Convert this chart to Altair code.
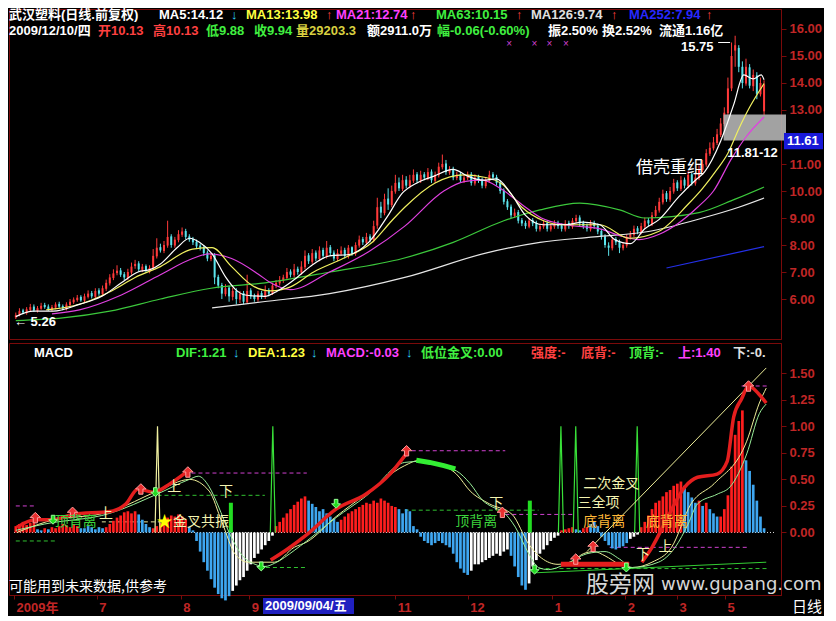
import altair as alt
import pandas as pd

# ===================== price panel: one entry per trading day =====================
OPEN = [
    5.32, 5.42, 5.58, 5.48, 5.60, 5.72, 5.56, 5.64, 5.78, 5.72, 5.60,
    5.68, 5.82, 5.74, 5.62, 5.78, 5.88, 5.96, 6.08, 5.94, 6.08,
    6.22, 6.08, 6.32, 6.18, 6.38, 6.58, 6.78, 6.96, 7.06, 6.92,
    6.78, 6.98, 7.22, 7.32, 7.08, 7.22, 7.02, 7.16, 7.58, 7.92,
    7.78, 7.98, 8.32, 7.98, 8.18, 8.38, 8.52, 8.32, 8.22, 8.12,
    7.98, 7.92, 7.72, 7.48, 7.62, 6.82, 6.52, 6.18, 6.42, 6.08,
    6.30, 5.98, 6.22, 5.88, 6.32, 6.12, 5.98, 6.22, 6.08, 6.32,
    6.22, 6.48, 6.58, 6.68, 6.78, 7.02, 6.88, 7.12, 6.98, 7.18,
    7.62, 7.38, 7.72, 7.48, 7.82, 7.58, 7.92, 7.72, 7.48, 7.68,
    7.82, 7.58, 7.92, 7.68, 7.98, 8.22, 8.08, 8.32, 8.18, 8.72,
    9.42, 9.18, 9.72, 9.48, 9.98, 10.32, 10.08, 10.42, 10.18, 10.38,
    10.62, 10.38, 10.62, 10.48, 10.72, 10.38, 10.58, 10.88, 11.02, 10.68,
    10.82, 10.48, 10.62, 10.38, 10.48, 10.62, 10.28, 10.52, 10.42, 10.18,
    10.38, 10.62, 10.52, 10.32, 10.02, 9.62, 9.42, 9.08, 9.22, 8.92,
    8.82, 8.68, 8.92, 8.82, 8.58, 8.68, 8.82, 8.58, 8.68, 8.82,
    8.72, 8.58, 8.82, 8.68, 8.88, 9.02, 8.82, 8.72, 8.58, 8.82,
    8.72, 8.52, 8.32, 7.98, 7.88, 8.22, 8.12, 7.88, 7.98, 8.28,
    8.38, 8.62, 8.48, 8.68, 8.92, 8.78, 9.08, 9.28, 9.58, 9.92,
    9.68, 9.98, 10.32, 10.08, 10.42, 10.18, 10.62, 10.28, 10.48, 10.78,
    10.98, 11.38, 11.58, 11.78, 12.08, 12.48, 12.88, 13.80, 15.20, 15.30,
    14.60, 13.98, 14.58, 13.88, 14.28, 13.58, 12.95,
]
CLOSE = [
    5.40, 5.55, 5.50, 5.62, 5.70, 5.58, 5.66, 5.75, 5.70, 5.62, 5.70,
    5.80, 5.72, 5.65, 5.80, 5.90, 5.98, 6.05, 5.95, 6.10, 6.20,
    6.10, 6.30, 6.20, 6.40, 6.60, 6.80, 6.95, 7.05, 6.90, 6.80,
    7.00, 7.20, 7.30, 7.10, 7.20, 7.05, 7.15, 7.60, 7.90, 7.80,
    8.00, 8.30, 8.00, 8.20, 8.40, 8.50, 8.30, 8.20, 8.10, 7.95,
    7.90, 7.70, 7.50, 7.60, 6.80, 6.50, 6.20, 6.40, 6.10, 6.30,
    6.00, 6.20, 5.90, 6.30, 6.10, 6.00, 6.20, 6.10, 6.30, 6.20,
    6.50, 6.60, 6.70, 6.80, 7.00, 6.90, 7.10, 7.00, 7.20, 7.60,
    7.40, 7.70, 7.50, 7.80, 7.60, 7.90, 7.70, 7.50, 7.70, 7.80,
    7.60, 7.90, 7.70, 8.00, 8.20, 8.10, 8.30, 8.20, 8.70, 9.40,
    9.20, 9.70, 9.50, 10.00, 10.30, 10.10, 10.40, 10.20, 10.40, 10.60,
    10.40, 10.60, 10.50, 10.70, 10.40, 10.60, 10.90, 11.00, 10.70, 10.80,
    10.50, 10.60, 10.40, 10.50, 10.60, 10.30, 10.50, 10.40, 10.20, 10.40,
    10.60, 10.50, 10.30, 10.00, 9.60, 9.40, 9.10, 9.20, 8.90, 8.80,
    8.70, 8.90, 8.80, 8.60, 8.70, 8.80, 8.60, 8.70, 8.80, 8.70,
    8.60, 8.80, 8.70, 8.90, 9.00, 8.80, 8.70, 8.60, 8.80, 8.70,
    8.50, 8.30, 8.00, 7.90, 8.20, 8.10, 7.90, 8.00, 8.30, 8.40,
    8.60, 8.50, 8.70, 8.90, 8.80, 9.10, 9.30, 9.60, 9.90, 9.70,
    10.00, 10.30, 10.10, 10.40, 10.20, 10.60, 10.30, 10.50, 10.80, 11.00,
    11.40, 11.60, 11.80, 12.10, 12.50, 12.90, 13.80, 15.00, 15.40, 14.60,
    14.00, 14.60, 13.90, 14.30, 13.60, 14.00, 13.95,
]
HIGH = [
    5.50, 5.66, 5.64, 5.70, 5.82, 5.80, 5.74, 5.86, 5.86, 5.80, 5.78,
    5.88, 5.90, 5.80, 5.88, 6.00, 6.06, 6.15, 6.14, 6.20, 6.32,
    6.30, 6.40, 6.40, 6.50, 6.72, 6.92, 7.10, 7.25, 7.15, 7.00,
    7.12, 7.35, 7.45, 7.40, 7.30, 7.28, 7.25, 7.85, 8.25, 8.05,
    8.15, 8.90, 8.40, 8.30, 8.55, 8.65, 8.60, 8.40, 8.30, 8.20,
    8.05, 8.00, 7.80, 7.70, 7.70, 6.90, 6.60, 6.55, 6.50, 6.42,
    6.40, 6.30, 6.30, 6.90, 6.40, 6.20, 6.30, 6.30, 6.50, 6.40,
    6.60, 6.70, 6.85, 6.90, 7.15, 7.10, 7.30, 7.20, 7.40, 7.80,
    7.70, 7.85, 7.80, 7.95, 7.90, 8.15, 8.00, 7.80, 7.85, 7.95,
    7.90, 8.00, 7.95, 8.10, 8.35, 8.30, 8.45, 8.40, 8.90, 9.75,
    9.60, 9.90, 10.10, 10.20, 10.60, 10.50, 10.60, 10.55, 10.60, 10.80,
    10.70, 10.75, 10.70, 10.85, 10.80, 10.72, 11.05, 11.35, 11.15, 10.92,
    10.90, 10.72, 10.70, 10.62, 10.72, 10.70, 10.62, 10.60, 10.50, 10.52,
    10.75, 10.70, 10.60, 10.40, 10.10, 9.70, 9.50, 9.35, 9.30, 9.00,
    8.90, 9.00, 9.00, 8.90, 8.80, 8.92, 8.90, 8.80, 8.92, 8.90,
    8.80, 8.92, 8.90, 9.00, 9.12, 9.10, 8.90, 8.80, 8.92, 8.90,
    8.80, 8.60, 8.40, 8.10, 8.30, 8.30, 8.20, 8.10, 8.40, 8.52,
    8.72, 8.70, 8.82, 9.02, 9.00, 9.22, 9.45, 9.75, 10.05, 10.00,
    10.15, 10.45, 10.40, 10.55, 10.50, 10.75, 10.70, 10.65, 10.95, 11.15,
    11.55, 11.80, 12.00, 12.30, 12.70, 13.10, 14.20, 15.50, 15.75, 15.40,
    14.80, 14.90, 14.70, 14.50, 14.40, 14.20, 14.10,
]
LOW = [
    5.26, 5.36, 5.44, 5.42, 5.54, 5.52, 5.50, 5.60, 5.64, 5.56, 5.54,
    5.62, 5.66, 5.58, 5.58, 5.72, 5.82, 5.90, 5.90, 5.88, 6.02,
    6.02, 6.00, 6.12, 6.10, 6.30, 6.50, 6.70, 6.88, 6.82, 6.70,
    6.70, 6.90, 7.12, 7.02, 7.00, 6.98, 6.95, 7.10, 7.50, 7.72,
    7.70, 7.90, 7.90, 7.90, 8.10, 8.30, 8.22, 8.12, 8.00, 7.85,
    7.80, 7.60, 7.40, 7.40, 6.55, 6.40, 6.00, 6.10, 5.90, 5.95,
    5.80, 5.85, 5.80, 5.85, 6.00, 5.90, 5.90, 6.00, 6.00, 6.10,
    6.15, 6.40, 6.50, 6.60, 6.70, 6.80, 6.80, 6.90, 6.90, 7.10,
    7.30, 7.30, 7.40, 7.40, 7.50, 7.50, 7.60, 7.40, 7.40, 7.60,
    7.50, 7.50, 7.60, 7.60, 7.90, 8.00, 8.00, 8.10, 8.10, 8.60,
    9.00, 9.10, 9.30, 9.40, 9.90, 10.00, 10.00, 10.10, 10.10, 10.30,
    10.30, 10.30, 10.40, 10.40, 10.30, 10.30, 10.50, 10.80, 10.60, 10.60,
    10.40, 10.40, 10.30, 10.30, 10.40, 10.20, 10.20, 10.30, 10.10, 10.10,
    10.30, 10.40, 10.20, 9.90, 9.50, 9.30, 9.00, 9.00, 8.80, 8.70,
    8.60, 8.62, 8.70, 8.50, 8.50, 8.60, 8.50, 8.50, 8.60, 8.60,
    8.50, 8.50, 8.60, 8.60, 8.80, 8.70, 8.60, 8.50, 8.50, 8.60,
    8.40, 8.20, 7.90, 7.60, 7.80, 8.00, 7.70, 7.80, 7.90, 8.20,
    8.30, 8.40, 8.40, 8.60, 8.70, 8.70, 9.00, 9.20, 9.50, 9.60,
    9.60, 9.90, 10.00, 10.00, 10.10, 10.10, 10.20, 10.20, 10.40, 10.70,
    10.90, 11.30, 11.50, 11.70, 12.00, 12.40, 12.80, 13.70, 14.60, 14.40,
    13.80, 13.90, 13.80, 13.70, 13.40, 13.50, 12.80,
]

# moving averages, read at selected bars: (bar index, value)
MA5 = [(0, 5.35), (4.9, 5.55), (10.3, 5.55), (17.6, 5.8), (23.8, 6.1), (29.2, 6.6), (33.8, 7.0),
       (37.3, 7.1), (40, 7.3), (44.6, 7.9), (48.1, 8.25), (50.8, 8.1), (54.3, 7.67), (58.1, 6.8),
       (60.8, 6.35), (63.5, 6.15), (68.9, 6.1), (72.4, 6.3), (77.8, 6.8), (81.4, 7.2), (86.8, 7.6),
       (92.2, 7.65), (97.6, 8.1), (103, 9.1), (106.8, 9.9), (111, 10.3), (115.7, 10.55), (121, 10.8),
       (125, 10.55), (129.2, 10.4), (133, 10.45), (137, 9.9), (141, 9.1), (146, 8.75), (152, 8.75),
       (157, 8.85), (161.6, 8.75), (165.7, 8.2), (170, 8.05), (174, 8.6), (178, 8.95), (183.5, 9.8),
       (188, 10.4), (190.5, 10.7), (195, 11.85), (198.6, 13.2), (201.4, 14.3), (204, 14.15),
       (206.2, 14.3), (207, 14.12)]
MA13 = [(8.4, 5.6), (16, 5.75), (26.5, 6.3), (33, 6.8), (40, 7.2), (48.9, 7.85), (54.3, 7.9),
        (59.7, 7.2), (65.4, 6.5), (70.5, 6.3), (76, 6.45), (82.4, 7.0), (90.5, 7.5), (98.6, 8.1),
        (104, 8.9), (107.6, 9.4), (116, 10.3), (124, 10.6), (130, 10.5), (134.6, 10.25), (140, 9.4),
        (146, 8.9), (151, 8.75), (161.6, 8.75), (169.7, 8.25), (177.8, 8.5), (185.9, 9.5),
        (190, 10.1), (194, 10.8), (197, 11.4), (200, 12.3), (203, 13.1), (207, 13.98)]
MA21 = [(10, 5.45), (17.6, 5.6), (29.2, 6.15), (40, 6.9), (48.9, 7.5), (53.5, 7.67), (59.7, 7.5),
        (67, 6.93), (70.5, 6.6), (76, 6.35), (86.8, 7.0), (97.6, 7.75), (107.6, 8.7), (118.4, 10.0),
        (124, 10.35), (129, 10.4), (134, 10.1), (140, 9.5), (145.4, 9.0), (152, 8.75), (161.6, 8.6),
        (167, 8.35), (172.4, 8.2), (178, 8.4), (183.2, 8.8), (188.6, 9.4), (193, 10.0), (198, 11.2),
        (202, 12.0), (207, 12.74)]
MA63 = [(0, 5.2), (13, 5.3), (26, 5.55), (40, 6.0), (54, 6.4), (69, 6.6), (87, 7.0), (107, 7.5),
        (121, 8.1), (135, 8.9), (145, 9.3), (156, 9.55), (167, 9.3), (174, 9.0), (189, 9.2),
        (199, 9.7), (207, 10.15)]
MA126 = [(54.3, 5.67), (68.4, 5.9), (86.8, 6.2), (107.6, 6.8), (130, 7.7), (145, 8.1), (160, 8.3),
         (175, 8.5), (190, 9.0), (200, 9.4), (207, 9.74)]
MA252 = [(180, 7.15), (207, 7.94)]

# ===================== MACD panel =====================
HIST = [
    0.06, 0.08, 0.10, 0.07, 0.09, 0.13,
    0.03, 0.02, 0.04, 0.03, 0.05,
    0.04, 0.06, 0.08, 0.07, 0.05, 0.08, 0.06,
    0.04, 0.04, 0.06, 0.05, 0.03, 0.05, 0.04,
    0.05, 0.08, 0.11, 0.14, 0.16, 0.19, 0.20, 0.18, 0.20,
    0.17, 0.12, 0.08, 0.05,
    0.04, 0.06, 0.09, 0.12, 0.14, 0.16, 0.15, 0.17, 0.15, 0.12,
    0.05, 0.02,
    -0.08, -0.18, -0.28, -0.36, -0.44, -0.52, -0.58, -0.62, -0.64, -0.60,
    -0.55, -0.50, -0.45, -0.42, -0.36, -0.30, -0.24, -0.20, -0.16, -0.12, -0.08,
    -0.03,
    0.06, 0.10, 0.14, 0.18, 0.22, 0.26, 0.29, 0.32, 0.34,
    0.30, 0.27, 0.24, 0.20, 0.22, 0.18, 0.15, 0.13,
    0.10,
    0.12, 0.15, 0.18, 0.20, 0.22, 0.24, 0.26, 0.28, 0.27, 0.30, 0.28, 0.32, 0.30, 0.28, 0.25, 0.24,
    0.22, 0.18, 0.22, 0.20,
    0.06, 0.03, -0.04,
    -0.08, -0.10, -0.12, -0.10, -0.08, -0.10, -0.12,
    -0.14, -0.20, -0.28, -0.34, -0.38, -0.40, -0.36, -0.30,
    -0.30, -0.28, -0.26, -0.24, -0.22, -0.20, -0.22, -0.18, -0.16,
    -0.22, -0.32, -0.42, -0.50, -0.54, -0.48,
    -0.32, -0.26, -0.20, -0.16, -0.12, -0.08, -0.05, -0.03,
    0.02, 0.03, 0.04, 0.05, 0.03, 0.02, 0.04, 0.05, 0.08, 0.10, 0.06,
    -0.04, -0.08, -0.12, -0.15, -0.16, -0.14, -0.13, -0.10,
    -0.06, -0.04, -0.02,
    0.05, 0.10, 0.16, 0.22, 0.28, 0.30, 0.34, 0.38, 0.40, 0.44, 0.46, 0.48,
    0.44, 0.38, 0.33, 0.28, 0.30, 0.25, 0.28, 0.22, 0.18, 0.15,
    0.15, 0.22, 0.35, 0.62, 0.92, 1.05, 1.15,
    0.68, 0.58, 0.45, 0.30, 0.15, 0.04,
]
HIST_KIND = ("rrrrrr" "bbrbr" "rrrrrrr" "bbbbbbb" "rrrrrrrrr" "bbbb" "rrrrrrrrrr" "bb"
             "bbbbbbbbbb" "wwwwwwwwwww" "w" "rrrrrrrrr" "bbbbbbbb" "b" "rrrrrrrrrrrrrrrr"
             "bbbb" "bbb" "bbbbbbb" "bbbbbbww" "wwwwwwwww" "bbbbbw" "wwwwwwww" "rrrrbbrrbbb"
             "bbbbbbbb" "www" "rrrrrrrrrrrr" "bbbbrbrbbb" "rrrrrrr" "bbbbbb")

DEA_LINE = [(0.3, 0.0), (8.4, 0.1), (26.5, 0.2), (39.2, 0.39), (48.1, 0.5), (53.5, 0.39), (57, 0.1),
            (60.8, -0.21), (64.3, -0.28), (71.6, -0.28), (77, -0.14), (80.5, -0.09), (88.6, 0.15),
            (96.8, 0.36), (107.6, 0.63), (111.6, 0.68), (116.5, 0.65), (121.9, 0.55), (125.7, 0.39),
            (131, 0.27), (137.3, 0.17), (141.9, -0.11), (145.4, -0.24), (150, -0.3), (154, -0.27),
            (157, -0.2), (160, -0.18), (163, -0.22), (167, -0.3), (170.5, -0.33), (176, -0.28),
            (181.4, -0.14), (186.8, 0.27), (193.2, 0.46), (202.2, 0.86), (205.7, 1.22), (207.6, 1.36)]
DIF_LINE = [(0, 0.02), (8, 0.08), (26, 0.18), (39, 0.36), (48, 0.5), (50.5, 0.53), (53.5, 0.43),
            (56, 0.25), (59, 0.0), (62.5, -0.21), (66.2, -0.3), (69, -0.32), (71.6, -0.29),
            (77, -0.17), (80.5, -0.08), (88.6, 0.14), (96.8, 0.34), (107.6, 0.66), (112, 0.67),
            (121.9, 0.58), (125.7, 0.46), (129.2, 0.3), (131.9, 0.24), (134.6, 0.2), (138.2, 0.05),
            (141.9, -0.2), (144.6, -0.33), (147.3, -0.35), (152, -0.3), (158, -0.2), (163, -0.18),
            (167, -0.25), (170.5, -0.33), (177.8, -0.28), (182.4, -0.14), (186, 0.08), (188.6, 0.27),
            (194, 0.36), (197.6, 0.43), (202.2, 0.74), (205.7, 1.12), (207.6, 1.21)]
STRENGTH = {
    "a": [(0.3, 0.05), (5.4, 0.12), (10.3, 0.12), (15.7, 0.17), (26.5, 0.2), (30.5, 0.27),
          (33.8, 0.41), (38.1, 0.38), (42.7, 0.46), (47.3, 0.57)],
    "b": [(70.5, -0.26), (75, -0.16), (80.5, -0.02), (88.6, 0.22), (96.8, 0.36), (103.5, 0.55),
          (108, 0.74)],
    "d": [(173.2, -0.28), (176, -0.14), (179.7, 0.1), (185.1, 0.43), (188.6, 0.52), (194, 0.55),
          (196.8, 0.67), (198.6, 1.09), (200.8, 1.26), (202.7, 1.38), (205.4, 1.31), (207.6, 1.22)],
}
BAND = [(150.8, -0.3), (169.7, -0.3)]
GREEN_THICK = [(110.8, 0.68), (114.5, 0.66), (118.4, 0.63), (121.6, 0.6)]
TREND_UP = [(158, -0.18), (207.6, 1.55)]
TREND_LOW = [(143.5, -0.38), (207.6, -0.28)]
SPIKE_AT = [39.2, 71.1, 150.8, 154.9, 171.9]
SPIKE_TOP = [1.0, 1.0, 1.0, 1.0, 1.0]
SPIKE_KIND = ["y", "g", "g", "g", "g"]
GBAR_AT = [59.5, 142.2]
GBAR_TOP = [0.28, 0.30]
UP_AT = [5.4, 15.7, 34.6, 47.6, 108.1, 134.6, 154.9, 159.7, 202.7]
UP_V = [0.14, 0.19, 0.41, 0.57, 0.77, 0.19, -0.25, -0.13, 1.38]
DN_AT = [10.3, 38.6, 67.9, 88.6, 143.5, 168.9]
DN_V = [0.12, 0.38, -0.32, 0.27, -0.35, -0.33]
# dashed levels: (from bar, to bar, value, kind)
LEVELS = [(0, 5.4, 0.25, "m"), (48.6, 80.5, 0.56, "m"), (107.6, 135.4, 0.77, "m"),
          (135.4, 154.3, 0.17, "m"), (164.3, 203, -0.14, "m"), (200.8, 208.5, 1.38, "m"),
          (0, 11.1, -0.08, "g"), (39.2, 68.9, 0.35, "g"), (69.2, 80.5, -0.33, "g"),
          (107.6, 144.6, 0.21, "g"), (144.6, 208.4, -0.34, "g"), (23.8, 40.8, 0.1, "y")]
# signal words: (bar, value, text, kind)
SIGNALS = [(10.8, 0.095, "顶背离", "g"), (23, 0.17, "上", "y"), (41.9, 0.43, "上", "y"),
           (43.5, 0.095, "金叉共振", "y"), (56.2, 0.38, "下", "y"), (121.6, 0.095, "顶背离", "g"),
           (131, 0.27, "下", "y"), (157, 0.455, "二次金叉", "y"), (155.4, 0.278, "三全项", "y"),
           (157, 0.1, "底背离", "o"), (174.3, 0.1, "底背离", "o"), (177.8, -0.14, "上", "y"),
           (171.6, -0.215, "下", "y")]
STAR = [(41.1, 0.095)]

MONTH_POS = [-0.5, 22.4, 45.6, 64.6, 105.0, 125.0, 148.4, 168.6, 182.9, 196.2]
MONTH_LAB = ["2009年", "7", "8", "9", "11", "12", "1", "2", "3", "5"]
PRICE_TICKS = [6, 7, 8, 9, 10, 11, 13, 14, 15, 16]
MACD_TICKS = [0, 0.25, 0.5, 0.75, 1.0, 1.25, 1.5]

HEAD1 = [("武汉塑料(日线.前复权)", 0, "w"), ("MA5:14.12", 150, "w"), ("↓", 222, "c"),
         ("MA13:13.98", 237, "y"), ("↑", 317, "r"), ("MA21:12.74", 327, "m"), ("↑", 401, "r"),
         ("MA63:10.15", 427, "g"), ("↑", 507, "r"), ("MA126:9.74", 522, "l"), ("↑", 602, "r"),
         ("MA252:7.94", 620, "bl"), ("↑", 697, "r")]
HEAD2 = [("2009/12/10/四", 0, "w"), ("开10.13", 89, "r"), ("高10.13", 144, "r"),
         ("低9.88", 197, "g"), ("收9.94", 245, "g"), ("量29203.3", 287, "ol"),
         ("额2911.0万", 358, "w"), ("幅-0.06(-0.60%)", 428, "g"), ("振2.50%", 539, "w"),
         ("换2.52%", 593, "w"), ("流通1.16亿", 650, "w")]
HEAD3 = [("MACD", 25, "w"), ("DIF:1.21", 167, "g"), ("↓", 224, "c"), ("DEA:1.23", 239, "y"),
         ("↓", 302, "c"), ("MACD:-0.03", 317, "m"), ("↓", 397, "c"), ("低位金叉:0.00", 412, "g"),
         ("强度:-", 522, "r"), ("底背:-", 572, "r"), ("顶背:-", 620, "g"), ("上:1.40", 669, "m"),
         ("下:-0.", 724, "l")]

# ===================== styling =====================
PAL = {"w": "#FFFFFF", "c": "#30D8FF", "y": "#FFFF40", "r": "#FF4040", "m": "#FF40FF",
       "g": "#40F040", "l": "#E0E0E0", "bl": "#2828FF", "ol": "#D8D040", "o": "#FFB838"}
AXIS_RED = "#C02626"
DARK_RED = "#7A0A0A"
UP_COL, DN_COL = "#FF3A3A", "#5CE4EC"
FONT_MIX = "Liberation Sans, Noto Sans CJK SC"
FONT_CN = "Noto Sans CJK SC"
W, H_UP, H_LO = 772, 330, 252

XS = alt.Scale(domain=[-0.5, 210.3], nice=False, zero=False)
YS_UP = alt.Scale(domain=[4.52, 16.74], nice=False, zero=False)
YS_LO = alt.Scale(domain=[-0.589, 1.785], nice=False, zero=False)

price_axis = alt.Axis(orient="right", values=PRICE_TICKS, format=".2f", labelColor=AXIS_RED,
                      labelFont="Liberation Sans", labelFontSize=13, labelFontWeight="bold",
                      tickColor=DARK_RED, domainColor=DARK_RED, tickSize=5, labelPadding=3,
                      grid=False, title=None)
macd_axis = alt.Axis(orient="right", values=MACD_TICKS, format=".2f", labelColor=AXIS_RED,
                     labelFont="Liberation Sans", labelFontSize=13, labelFontWeight="bold",
                     tickColor=DARK_RED, domainColor=DARK_RED, tickSize=5, labelPadding=3,
                     grid=False, title=None)
month_expr = "".join(f"datum.value == {p} ? '{l}' : " for p, l in zip(MONTH_POS, MONTH_LAB)) + "''"
date_axis = alt.Axis(values=MONTH_POS, labelExpr=month_expr, labelAlign="left", labelBaseline="top",
                     labelColor=AXIS_RED, labelFont=FONT_MIX, labelFontSize=13,
                     labelFontWeight="bold", tickColor=DARK_RED, domainColor=DARK_RED, tickSize=4,
                     labelPadding=2, labelOffset=2, labelOverlap=False, labelFlush=False,
                     labelBound=False, grid=False, title=None)


# every layer of a panel carries the same axis definition so that the merged axis survives
def xu(field="i"):
    return alt.X(field, type="quantitative", scale=XS, axis=None)


def xl(field="i"):
    return alt.X(field, type="quantitative", scale=XS, axis=date_axis)


def yu(field):
    return alt.Y(field, type="quantitative", scale=YS_UP, axis=price_axis)


def yl(field):
    return alt.Y(field, type="quantitative", scale=YS_LO, axis=macd_axis)


def series(points, name, col):
    return [{"s": name, "i": i, "v": v, "col": col} for i, v in points]


def header_layer(rows, y):
    df = pd.DataFrame([{"t": t, "px": x, "py": y, "col": PAL[k]} for t, x, k in rows])
    return alt.Chart(df).mark_text(
        align="left", baseline="top", font=FONT_MIX, fontSize=13, fontWeight="bold"
    ).encode(x=alt.X("px:Q", scale=None), y=alt.Y("py:Q", scale=None), text="t:N",
             color=alt.Color("col:N", scale=None))


# ===================== upper panel =====================
n = min(len(OPEN), len(CLOSE), len(HIGH), len(LOW))
cdf = pd.DataFrame({"i": range(n), "o": OPEN[:n], "c": CLOSE[:n], "h": HIGH[:n], "l": LOW[:n]})
cdf["top"] = cdf[["h", "o", "c"]].max(axis=1)
cdf["bot"] = cdf[["l", "o", "c"]].min(axis=1)
cdf["col"] = [UP_COL if c >= o else DN_COL for o, c in zip(cdf["o"], cdf["c"])]

wicks = alt.Chart(cdf).mark_rule(strokeWidth=1).encode(
    x=xu(), y=yu("bot"), y2="top:Q", color=alt.Color("col:N", scale=None))
bodies = alt.Chart(cdf).mark_bar(size=2).encode(
    x=xu(), y=yu("o"), y2="c:Q", color=alt.Color("col:N", scale=None))

zone = alt.Chart(pd.DataFrame({"a": [0]})).mark_rect(color="#B0B0B0", opacity=0.92).encode(
    x=alt.X(datum=195.8, scale=XS, axis=None), x2=alt.value(777),
    y=alt.Y(datum=12.83, scale=YS_UP, axis=price_axis), y2=alt.datum(11.87))

ma_rows = (series(MA126, "MA126", "#E6E6E6") + series(MA252, "MA252", "#2430E8")
           + series(MA63, "MA63", "#3CC83C") + series(MA21, "MA21", "#E040E0")
           + series(MA13, "MA13", "#F0F060") + series(MA5, "MA5", "#FFFFFF"))
ma_lines = alt.Chart(pd.DataFrame(ma_rows)).mark_line(strokeWidth=1.2, interpolate="monotone").encode(
    x=xu(), y=yu("v"), detail="s:N", order="i:Q", color=alt.Color("col:N", scale=None))

price_notes = pd.DataFrame([
    {"i": 184.0, "v": 15.33, "t": "15.75"},
    {"i": -0.5, "v": 5.15, "t": "← 5.26"},
    {"i": 196.8, "v": 11.41, "t": "11.81-12"},
])
notes = alt.Chart(price_notes).mark_text(align="left", baseline="middle", font="Liberation Sans",
                                          fontSize=13, fontWeight="bold", color="#FFFFFF").encode(
    x=xu(), y=yu("v"), text="t:N")
peak_tick = alt.Chart(pd.DataFrame({"i": [194.3], "i2": [197.6], "v": [15.5]})).mark_rule(
    color="#FFFFFF", strokeWidth=1).encode(x=xu(), x2="i2:Q", y=yu("v"))
story = alt.Chart(pd.DataFrame({"i": [181.0], "v": [10.85], "t": ["借壳重组"]})).mark_text(
    align="center", baseline="middle", font=FONT_CN, fontSize=17, color="#FFFFFF").encode(
    x=xu(), y=yu("v"), text="t:N")
crosses = alt.Chart(pd.DataFrame({"i": [136.5, 143.5, 147.6, 152.2], "v": [15.45] * 4})).mark_text(
    text="×", fontSize=10, color="#D040D0").encode(x=xu(), y=yu("v"))
last_box = alt.Chart(pd.DataFrame({"a": [0]})).mark_rect(color="#1818D8").encode(
    x=alt.value(775), x2=alt.value(814),
    y=alt.Y(datum=12.15, scale=YS_UP, axis=price_axis), y2=alt.datum(11.55))
last_txt = alt.Chart(pd.DataFrame({"v": [11.85], "t": ["11.61"]})).mark_text(
    align="left", baseline="middle", font="Liberation Sans", fontSize=13, fontWeight="bold",
    color="#FFFFFF").encode(x=alt.value(778), y=yu("v"), text="t:N")

upper = alt.layer(
    wicks, bodies, zone, ma_lines, notes, peak_tick, story, crosses, last_box, last_txt,
    header_layer(HEAD1, 0), header_layer(HEAD2, 16),
).properties(width=W, height=H_UP)

# ===================== lower panel =====================
HIST_COLS = {"r": "#FF1E1E", "b": "#3EA6F0", "w": "#FFFFFF"}
hdf = pd.DataFrame([{"i": i, "v": v, "col": HIST_COLS[k]}
                    for i, (v, k) in enumerate(zip(HIST, HIST_KIND))])

zero = alt.Chart(pd.DataFrame({"v": [0.0]})).mark_rule(
    color="#D8D8D8", strokeDash=[1, 2], strokeWidth=1).encode(
    x=alt.X(datum=-0.5, scale=XS, axis=date_axis), x2=alt.datum(210.3), y=yl("v"))

LEV_COLS = {"m": "#D040D0", "g": "#30C030", "y": "#E8E8A0"}
ldf = pd.DataFrame([{"i": a, "i2": b, "v": v, "col": LEV_COLS[k]} for a, b, v, k in LEVELS])
levels = alt.Chart(ldf).mark_rule(strokeDash=[4, 3], strokeWidth=1).encode(
    x=xl(), x2="i2:Q", y=yl("v"), color=alt.Color("col:N", scale=None))

bars = alt.Chart(hdf).mark_bar(size=2.7).encode(
    x=xl(), y=yl("v"), y2=alt.datum(0), color=alt.Color("col:N", scale=None))

SPIKE_COLS = {"y": "#F0F0A0", "g": "#38E038"}
spk = []
for k, (at, top, kind) in enumerate(zip(SPIKE_AT, SPIKE_TOP, SPIKE_KIND)):
    for j, (di, v) in enumerate([(-0.7, 0.0), (0.0, top), (0.7, 0.0)]):
        spk.append({"s": k, "o": j, "i": at + di, "v": v, "col": SPIKE_COLS[kind]})
spikes = alt.Chart(pd.DataFrame(spk)).mark_line(strokeWidth=1.2).encode(
    x=xl(), y=yl("v"), detail="s:N", order="o:Q", color=alt.Color("col:N", scale=None))

gbars = alt.Chart(pd.DataFrame({"i": GBAR_AT, "v": GBAR_TOP})).mark_rule(
    strokeWidth=4, color="#22DD22").encode(x=xl(), y=yl("v"), y2=alt.datum(0))

thin_rows = (series(DEA_LINE, "dea", "#EEEE99") + series(DIF_LINE, "dif", "#99EE99")
             + series(TREND_UP, "tu", "#EEEE99") + series(TREND_LOW, "tl", "#33CC33"))
thin = alt.Chart(pd.DataFrame(thin_rows)).mark_line(strokeWidth=1, interpolate="monotone").encode(
    x=xl(), y=yl("v"), detail="s:N", order="i:Q", color=alt.Color("col:N", scale=None))

srows = []
for name, pts in STRENGTH.items():
    srows += series(pts, name, "#E41E1E")
strength = alt.Chart(pd.DataFrame(srows)).mark_line(strokeWidth=3.5, interpolate="monotone").encode(
    x=xl(), y=yl("v"), detail="s:N", order="i:Q", color=alt.Color("col:N", scale=None))
band = alt.Chart(pd.DataFrame(series(BAND, "band", "#E41E1E"))).mark_line(
    strokeWidth=5, color="#E41E1E").encode(x=xl(), y=yl("v"))
gthick = alt.Chart(pd.DataFrame(series(GREEN_THICK, "gt", "#33EE33"))).mark_line(
    strokeWidth=5, color="#33EE33").encode(x=xl(), y=yl("v"))

UP_SHAPE = "M0,-1L1,0L0.4,0L0.4,1L-0.4,1L-0.4,0L-1,0Z"
DN_SHAPE = "M0,1L1,0L0.4,0L0.4,-1L-0.4,-1L-0.4,0L-1,0Z"
ups = alt.Chart(pd.DataFrame({"i": UP_AT, "v": UP_V})).mark_point(
    shape=UP_SHAPE, filled=True, size=110, fill="#E83030", stroke="#FF9C9C", strokeWidth=1,
    opacity=1).encode(x=xl(), y=yl("v"))
dns = alt.Chart(pd.DataFrame({"i": DN_AT, "v": DN_V})).mark_point(
    shape=DN_SHAPE, filled=True, size=80, fill="#22DD22", stroke="#99FF99", strokeWidth=1,
    opacity=1).encode(x=xl(), y=yl("v"))

SIG_COLS = {"g": "#3CD23C", "y": "#F4F4B0", "o": "#FFB838"}
sdf = pd.DataFrame([{"i": i, "v": v, "t": t, "col": SIG_COLS[k]} for i, v, t, k in SIGNALS])
signals = alt.Chart(sdf).mark_text(align="left", baseline="middle", font=FONT_CN, fontSize=14).encode(
    x=xl(), y=yl("v"), text="t:N", color=alt.Color("col:N", scale=None))
star = alt.Chart(pd.DataFrame({"i": [s[0] for s in STAR], "v": [s[1] for s in STAR]})).mark_text(
    text="★", font=FONT_CN, fontSize=16, color="#FFFF00").encode(x=xl(), y=yl("v"))

foot = alt.Chart(pd.DataFrame({"t": ["可能用到未来数据,供参考"]})).mark_text(
    align="left", baseline="middle", font=FONT_CN, fontSize=14, color="#FFFFFF").encode(
    x=alt.value(0), y=alt.value(244), text="t:N")
wm1 = alt.Chart(pd.DataFrame({"t": ["股旁网"]})).mark_text(
    align="left", baseline="middle", font=FONT_CN, fontSize=23, color="#D6D6D6").encode(
    x=alt.value(577), y=alt.value(242), text="t:N")
wm2 = alt.Chart(pd.DataFrame({"t": ["www.gupang.com"]})).mark_text(
    align="left", baseline="middle", font="DejaVu Sans", fontSize=18, color="#D6D6D6").encode(
    x=alt.value(652), y=alt.value(242), text="t:N")
cursor_box = alt.Chart(pd.DataFrame({"a": [0]})).mark_rect(color="#2020C0").encode(
    x=alt.value(254), x2=alt.value(345), y=alt.value(255), y2=alt.value(271))
cursor_txt = alt.Chart(pd.DataFrame({"t": ["2009/09/04/五"]})).mark_text(
    align="left", baseline="middle", font=FONT_MIX, fontSize=13, fontWeight="bold",
    color="#FFFFFF").encode(x=alt.value(256), y=alt.value(263), text="t:N")
period = alt.Chart(pd.DataFrame({"t": ["日线"]})).mark_text(
    align="left", baseline="middle", font=FONT_CN, fontSize=15, color="#FFFFFF").encode(
    x=alt.value(783), y=alt.value(264), text="t:N")

lower = alt.layer(
    zero, levels, bars, spikes, gbars, thin, strength, band, gthick, ups, dns, signals, star,
    foot, wm1, wm2, cursor_box, cursor_txt, period, header_layer(HEAD3, 4),
).properties(width=W, height=H_LO)

chart = alt.vconcat(upper, lower, spacing=2).properties(
    background="#000000", padding=0
).configure_view(stroke=DARK_RED, strokeWidth=1)

chart.save("out.html", embed_options={"renderer": "svg", "actions": False})
